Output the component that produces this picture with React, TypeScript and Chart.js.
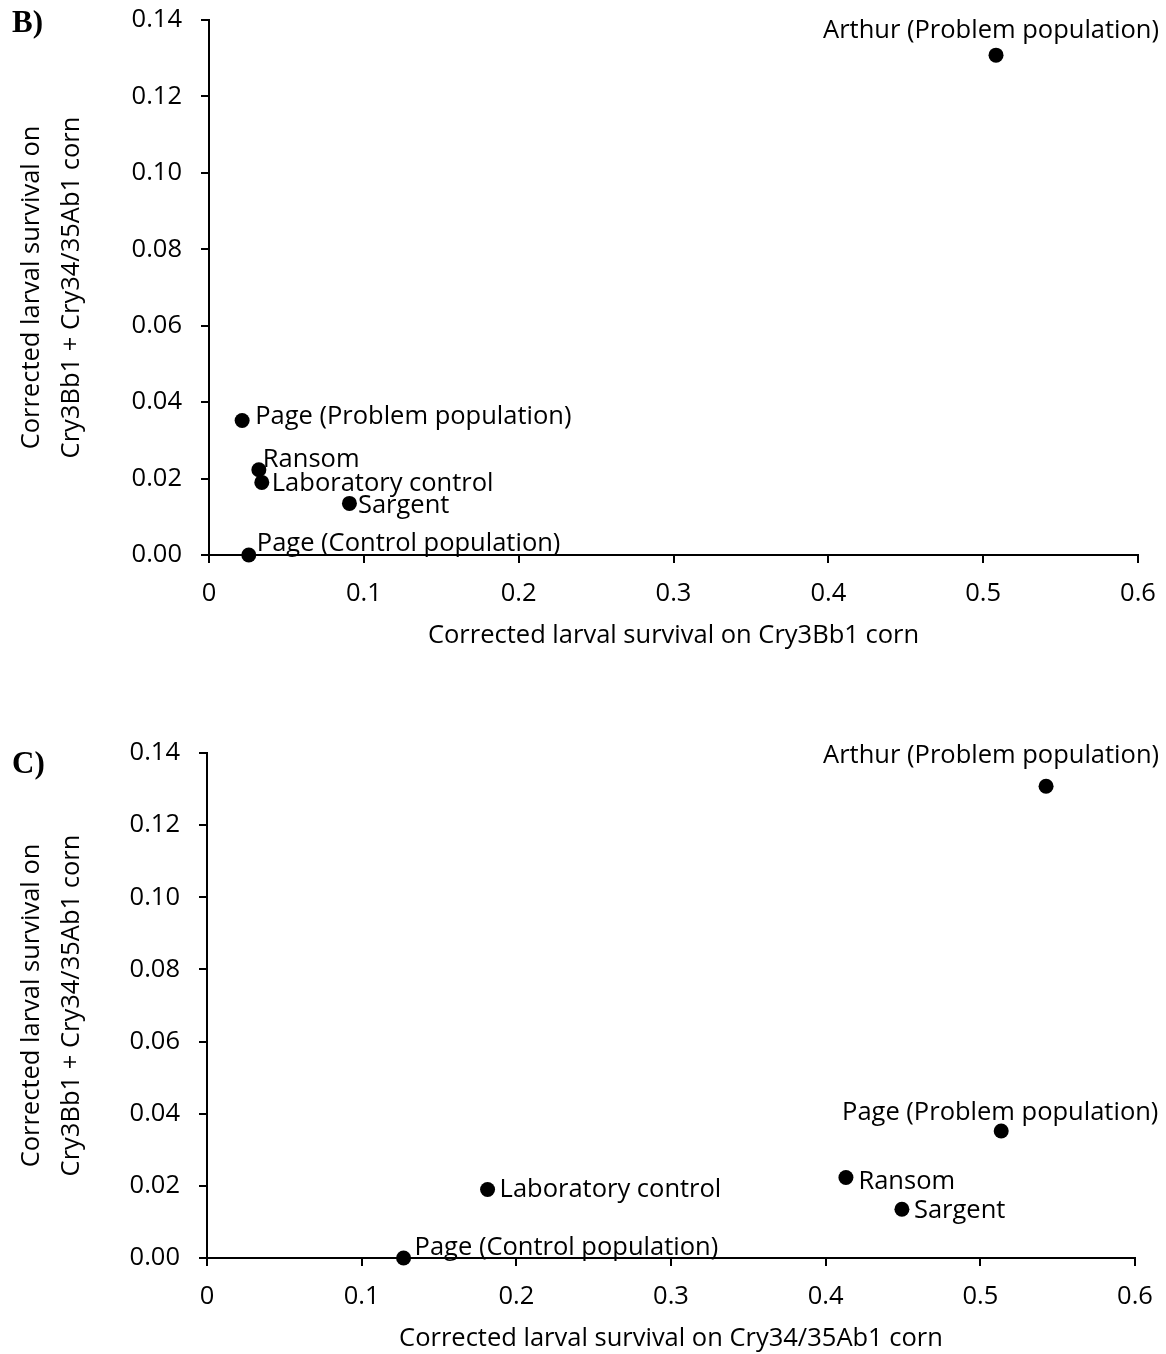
import React, { useEffect, useRef } from 'react';
import { Chart, registerables } from 'chart.js';

Chart.register(...registerables);

// ---- data ----
const populations = [
  'Arthur (Problem population)',
  'Page (Problem population)',
  'Ransom',
  'Laboratory control',
  'Sargent',
  'Page (Control population)',
];
const survivalOnPyramid = [0.1308, 0.0352, 0.0223, 0.019, 0.0135, 0.0];
const survivalOnCry3Bb1 = [0.5083, 0.0214, 0.0322, 0.0341, 0.0907, 0.0257];
const survivalOnCry3435 = [0.5425, 0.5135, 0.4131, 0.1814, 0.4493, 0.1271];

const xTickValues = [0, 0.1, 0.2, 0.3, 0.4, 0.5, 0.6];
const xTickLabels = ['0', '0.1', '0.2', '0.3', '0.4', '0.5', '0.6'];
const yTickValues = [0, 0.02, 0.04, 0.06, 0.08, 0.1, 0.12, 0.14];
const yTickLabels = ['0.00', '0.02', '0.04', '0.06', '0.08', '0.10', '0.12', '0.14'];

const yTitleLines = ['Corrected larval survival on', 'Cry3Bb1 + Cry34/35Ab1 corn'];
const xTitleB = 'Corrected larval survival on Cry3Bb1 corn';
const xTitleC = 'Corrected larval survival on Cry34/35Ab1 corn';

// ---- styling / layout ----
const FONT = '"Open Sans", "Noto Sans", sans-serif';
const FONT_SIZE = 25.5;
const PAGE_W = 1166;

type Placement = { align: CanvasTextAlign; dx: number; dy: number };

const placementB: Placement[] = [
  { align: 'center', dx: -5, dy: -17 },
  { align: 'left', dx: 13, dy: 4 },
  { align: 'left', dx: 4, dy: -3 },
  { align: 'left', dx: 10, dy: 9 },
  { align: 'left', dx: 8.5, dy: 10 },
  { align: 'left', dx: 8, dy: -4 },
];
const placementC: Placement[] = [
  { align: 'center', dx: -55, dy: -23 },
  { align: 'center', dx: -1, dy: -11 },
  { align: 'left', dx: 12.5, dy: 11 },
  { align: 'left', dx: 12, dy: 8 },
  { align: 'left', dx: 12, dy: 9 },
  { align: 'left', dx: 11, dy: -3 },
];

type Panel = {
  letter: string;
  letterBaseline: number;
  top: number;
  height: number;
  area: { left: number; right: number; top: number; bottom: number };
  xs: number[];
  ys: number[];
  xTitle: string;
  placement: Placement[];
};

const panels: Panel[] = [
  {
    letter: 'B)',
    letterBaseline: 32,
    top: 0,
    height: 651,
    area: { left: 209, right: 1138, top: 20, bottom: 555 },
    xs: survivalOnCry3Bb1,
    ys: survivalOnPyramid,
    xTitle: xTitleB,
    placement: placementB,
  },
  {
    letter: 'C)',
    letterBaseline: 773,
    top: 651,
    height: 703,
    area: { left: 207, right: 1135, top: 753, bottom: 1258 },
    xs: survivalOnCry3435,
    ys: survivalOnPyramid,
    xTitle: xTitleC,
    placement: placementC,
  },
];

function ScatterPanel({ panel }: { panel: Panel }) {
  const ref = useRef<HTMLCanvasElement | null>(null);

  useEffect(() => {
    const canvas = ref.current;
    if (!canvas) return;
    const { area, top, height } = panel;

    const annotate = {
      id: 'annotate',
      afterDatasetsDraw(chart: any) {
        const ctx = chart.ctx as CanvasRenderingContext2D;
        const meta = chart.getDatasetMeta(0);
        ctx.save();
        ctx.fillStyle = '#000';
        ctx.font = `${FONT_SIZE}px ${FONT}`;
        ctx.textBaseline = 'alphabetic';
        populations.forEach((name, i) => {
          const el = meta.data[i];
          const pl = panel.placement[i];
          if (!el || !pl) return;
          ctx.textAlign = pl.align;
          ctx.fillText(name, el.x + pl.dx, el.y + pl.dy);
        });
        ctx.font = `bold 31px "Liberation Serif", "Times New Roman", serif`;
        ctx.textAlign = 'left';
        ctx.fillText(panel.letter, 12, panel.letterBaseline - top);
        ctx.restore();
      },
    };

    const chart = new Chart(canvas, {
      type: 'scatter',
      data: {
        datasets: [
          {
            label: 'populations',
            data: panel.xs.map((x, i) => ({ x, y: panel.ys[i] })),
            backgroundColor: '#000',
            borderColor: '#000',
            pointRadius: 7.5,
            pointHoverRadius: 7.5,
            pointBorderWidth: 0,
            showLine: false,
            clip: false as any,
          },
        ],
      },
      options: {
        responsive: false,
        animation: false,
        events: [],
        layout: {
          padding: {
            top: area.top - top,
            right: PAGE_W - area.right,
            bottom: 0,
            left: 0,
          },
        },
        plugins: {
          legend: { display: false },
          tooltip: { enabled: false },
        },
        scales: {
          x: {
            type: 'linear',
            min: 0,
            max: 0.6,
            afterBuildTicks: (s: any) => {
              s.ticks = xTickValues.map((value) => ({ value }));
            },
            afterFit: (s: any) => {
              s.height = height - (area.bottom - top);
              s.paddingLeft = 0;
              s.paddingRight = 0;
              s.paddingTop = 0;
              s.paddingBottom = 0;
            },
            ticks: {
              color: '#000',
              padding: 15,
              font: { family: FONT, size: FONT_SIZE },
              callback: (_v: any, i: number) => xTickLabels[i],
            },
            grid: {
              display: true,
              drawOnChartArea: false,
              drawTicks: true,
              tickLength: 8,
              color: '#000',
              lineWidth: 2,
            },
            border: { display: true, color: '#000', width: 2 },
            title: {
              display: true,
              text: panel.xTitle,
              color: '#000',
              font: { family: FONT, size: FONT_SIZE },
              padding: { top: 0, bottom: 0 },
            },
          },
          y: {
            type: 'linear',
            min: 0,
            max: 0.14,
            afterBuildTicks: (s: any) => {
              s.ticks = yTickValues.map((value) => ({ value }));
            },
            afterFit: (s: any) => {
              s.width = area.left;
              s.paddingLeft = 0;
              s.paddingRight = 0;
              s.paddingTop = 0;
              s.paddingBottom = 0;
            },
            ticks: {
              color: '#000',
              padding: 19,
              font: { family: FONT, size: FONT_SIZE },
              callback: (_v: any, i: number) => yTickLabels[i],
            },
            grid: {
              display: true,
              drawOnChartArea: false,
              drawTicks: true,
              tickLength: 8,
              color: '#000',
              lineWidth: 2,
            },
            border: { display: true, color: '#000', width: 2 },
            title: {
              display: true,
              text: yTitleLines,
              color: '#000',
              font: { family: FONT, size: FONT_SIZE, lineHeight: '40px' as any },
              padding: { top: 12, bottom: 0 },
            },
          },
        },
      },
      plugins: [annotate],
    });

    return () => chart.destroy();
  }, [panel]);

  return (
    <canvas
      ref={ref}
      width={PAGE_W}
      height={panel.height}
      style={{ position: 'absolute', left: 0, top: panel.top, display: 'block', width: PAGE_W, height: panel.height }}
    />
  );
}

export default function App() {
  return (
    <div style={{ position: 'absolute', left: 0, top: 0, width: PAGE_W, height: 1354, background: '#fff', overflow: 'hidden' }}>
      {panels.map((p) => (
        <ScatterPanel key={p.letter} panel={p} />
      ))}
    </div>
  );
}
